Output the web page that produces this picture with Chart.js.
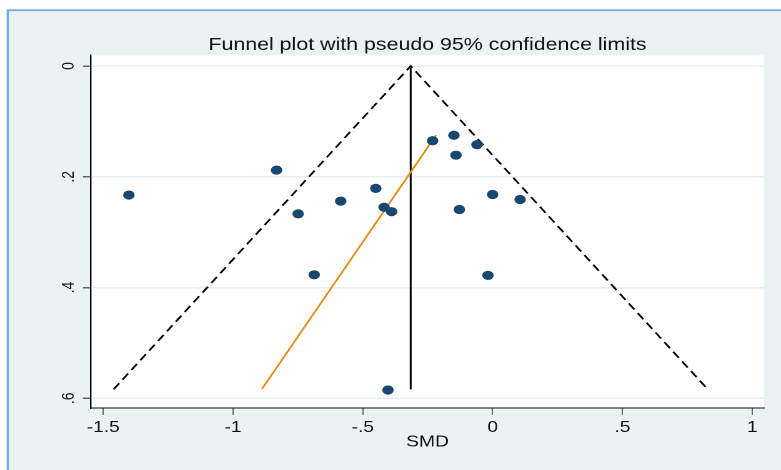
<!DOCTYPE html>
<html>
<head>
<meta charset="utf-8">
<script src="https://cdn.jsdelivr.net/npm/chart.js@4/dist/chart.umd.min.js"></script>
<style>
  html, body { margin: 0; padding: 0; background: #ffffff; overflow: hidden; }
  #wrap { position: absolute; left: 0; top: 0; width: 625px; height: 470px;
          transform: scaleX(1.2496); transform-origin: 0 0; }
  #c { display: block; width: 625px; height: 470px; }
</style>
</head>
<body>
<div id="wrap"><canvas id="c" width="625" height="470"></canvas></div>
<script>
// ---- data ----
const studySMD = [-1.401, -0.832, -0.749, -0.687, -0.585, -0.450, -0.418, -0.389, -0.403,
                  -0.231, -0.149, -0.141, -0.060, -0.128, 0.000, 0.106, -0.018];
const studySE  = [0.233, 0.188, 0.267, 0.377, 0.244, 0.221, 0.255, 0.263, 0.585,
                  0.135, 0.125, 0.161, 0.142, 0.259, 0.232, 0.241, 0.378];
const funnelX = [-1.4597, -0.3155, 0.8288];
const funnelY = [0.5838, 0, 0.5838];
const pooledX = [-0.3155, -0.3155];
const pooledY = [0, 0.5838];
const eggerX = [-0.8883, -0.2180];
const eggerY = [0.5832, 0.1250];
const xTicks = [-1.5, -1, -0.5, 0, 0.5, 1];
const yTicks = [0, 0.2, 0.4, 0.6];
const titleText = 'Funnel plot with pseudo 95% confidence limits';
const xTitle = 'SMD';

const pts = (xs, ys) => xs.map((x, i) => ({ x: x, y: ys[i] }));
const fmt = v => {
  if (Math.abs(v) < 1e-9) return '0';
  let s = String(Math.round(v * 10) / 10);
  return s.replace(/^(-?)0\./, '$1.');
};

const bgPlugin = {
  id: 'bg',
  beforeDraw(chart) {
    const ctx = chart.ctx, a = chart.chartArea;
    ctx.save();
    ctx.fillStyle = '#ffffff';
    ctx.fillRect(0, 0, chart.width, chart.height);
    ctx.fillStyle = '#eaf2f3';
    ctx.fillRect(6.2, 10.5, chart.width, chart.height);
    ctx.strokeStyle = '#78abdd';
    ctx.lineWidth = 1.8;
    ctx.beginPath();
    ctx.moveTo(6.2, chart.height + 5);
    ctx.lineTo(6.2, 10.2);
    ctx.lineTo(chart.width + 5, 10.2);
    ctx.stroke();
    ctx.fillStyle = '#ffffff';
    ctx.fillRect(a.left, a.top, a.right - a.left, a.bottom - a.top);
    ctx.restore();
  }
};

new Chart(document.getElementById('c'), {
  type: 'scatter',
  data: {
    datasets: [
      { data: pts(studySMD, studySE), backgroundColor: '#1a476f', borderWidth: 0,
        pointRadius: 4.6, pointHoverRadius: 4.6 },
      { data: pts(eggerX, eggerY), showLine: true, borderColor: '#e8880f', borderWidth: 1.5,
        pointRadius: 0 },
      { data: pts(pooledX, pooledY), showLine: true, borderColor: '#000000', borderWidth: 1.5,
        pointRadius: 0 },
      { data: pts(funnelX, funnelY), showLine: true, borderColor: '#000000', borderWidth: 1.6,
        borderDash: [7.5, 4.5], pointRadius: 0 }
    ]
  },
  options: {
    responsive: false,
    devicePixelRatio: 2,
    animation: false,
    layout: { padding: { left: 0, right: 13.6, top: 0, bottom: 0 } },
    plugins: {
      legend: { display: false },
      tooltip: { enabled: false },
      title: {
        display: true, text: titleText, fullSize: false, color: '#111',
        font: { family: 'Liberation Sans', size: 17.1, weight: 'normal' },
        padding: { top: 34.8, bottom: 0 }
      }
    },
    scales: {
      x: {
        type: 'linear', min: -1.547, max: 1.0455,
        afterBuildTicks: s => { s.ticks = xTicks.map(v => ({ value: v })); },
        afterFit: s => { s.height = 62; },
        grid: { drawOnChartArea: false, drawTicks: true, tickLength: 7, tickColor: '#666', lineWidth: 1 },
        border: { display: true, color: '#111', width: 1 },
        ticks: { callback: v => fmt(v), color: '#111', padding: 3.6, maxRotation: 0,
                 font: { family: 'Liberation Sans', size: 15.3 } },
        title: { display: true, text: xTitle, color: '#111',
                 font: { family: 'Liberation Sans', size: 15.4 }, padding: { top: 0, bottom: 18.6 } }
      },
      y: {
        type: 'linear', reverse: true, min: -0.0193, max: 0.6175,
        afterBuildTicks: s => { s.ticks = yTicks.map(v => ({ value: v })); },
        afterFit: s => { s.width = 72.8; },
        grid: { color: '#e6eef1', lineWidth: 1.5, drawTicks: true, tickLength: 6.4, tickColor: '#666' },
        border: { display: true, color: '#000', width: 1.2 },
        ticks: { callback: v => fmt(v), color: '#111', padding: 5.2, minRotation: 90, maxRotation: 90,
                 crossAlign: 'center', font: { family: 'Liberation Sans', size: 14 } }
      }
    }
  },
  plugins: [bgPlugin]
});
</script>
</body>
</html>
